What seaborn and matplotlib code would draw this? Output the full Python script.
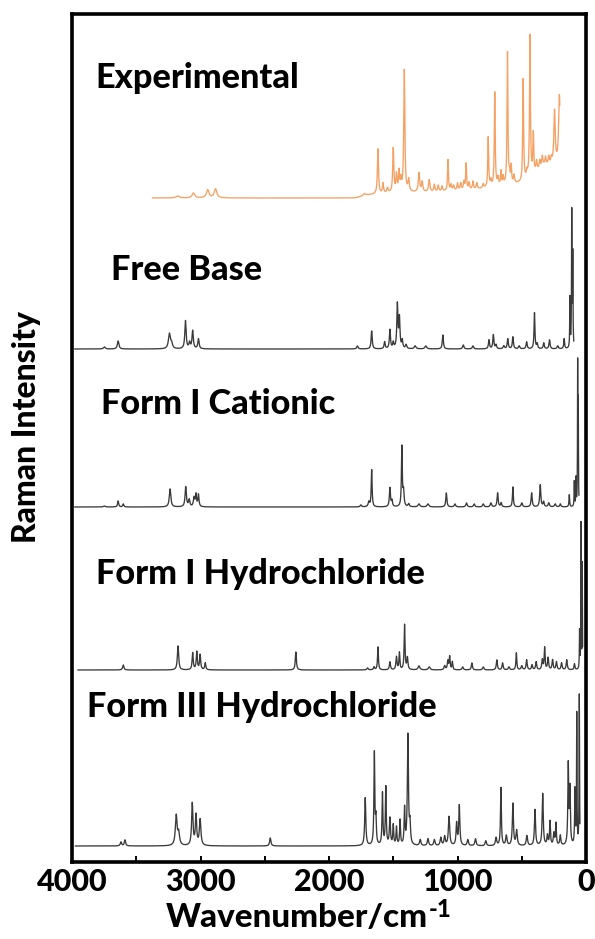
import numpy as np
import pandas as pd
import matplotlib
matplotlib.use("Agg")
import matplotlib.pyplot as plt
from matplotlib.ticker import MultipleLocator
import seaborn as sns

# ------------------------------------------------------------------ data
series_names = ["Experimental", "Free Base", "Form I Cationic",
                "Form I Hydrochloride", "Form III Hydrochloride"]
# stacking offsets of each trace (intensity units)
offsets = [664, 513, 355, 192, 16]
# wavenumber span drawn for each trace (start, end) in cm-1
spans = [(3375, 204), (3980, 95), (3980, 55), (3955, 26), (3975, 47)]

# Experimental: baseline anchors + peaks (centre, height, half width)
exp_base_wn = [3375, 1800, 1700, 1500, 1200, 900, 700, 500, 420, 330, 250, 204]
exp_base_lvl = [0, 0, 3, 5, 6, 8, 11, 15, 22, 32, 33, 34]
exp_c = [3177, 3055, 2944, 2883, 1725, 1619, 1580, 1545, 1500, 1475, 1455, 1440,
         1414, 1380, 1300, 1275, 1220, 1180, 1150, 1120, 1074, 1050, 1030, 1000,
         975, 950, 933, 910, 880, 850, 800, 761, 740, 710, 685, 662, 645, 611,
         595, 582, 560, 489, 460, 436, 410, 385, 360, 340, 315, 290, 270, 245, 207]
exp_h = [2, 5, 8, 9, 2, 45, 10, 5, 44, 17, 20, 11,
         122, 12, 19, 10, 12, 7, 6, 5, 31, 6, 5, 7,
         7, 8, 26, 7, 8, 6, 4, 50, 6, 94, 8, 14, 8, 132,
         8, 17, 8, 102, 6, 141, 40, 10, 8, 10, 8, 8, 6, 53, 68]
exp_w = [15, 12, 12, 12, 10, 5, 5, 6, 5, 5, 5, 5,
         5, 6, 6, 6, 6, 5, 5, 5, 4, 5, 5, 5,
         5, 5, 4, 5, 5, 5, 5, 4, 5, 4, 5, 4, 4, 4,
         5, 4, 5, 4, 5, 4, 4, 5, 5, 5, 5, 5, 5, 6, 7]

fb_c = [3748, 3641, 3242, 3225, 3117, 3085, 3061, 3016, 1779, 1668, 1567, 1526,
        1500, 1468, 1452, 1430, 1400, 1330, 1247, 1114, 955, 880, 755, 721, 700,
        640, 609, 569, 520, 462, 401, 380, 329, 284, 220, 170, 125, 111, 103]
fb_h = [2, 8, 15, 5, 28, 6, 18, 10, 3, 18, 7, 19,
        6, 44, 30, 8, 4, 3, 3, 14, 4, 3, 9, 14, 4,
        3, 10, 12, 3, 7, 36, 5, 6, 9, 3, 10, 50, 135, 92]
fb_w = [8, 7, 9, 8, 6, 6, 6, 6, 6, 5, 5, 5,
        5, 5, 5, 5, 6, 8, 8, 5, 6, 6, 5, 5, 5,
        6, 5, 5, 6, 5, 4, 5, 5, 5, 6, 4, 2, 2, 2]

cat_c = [3748, 3641, 3601, 3237, 3115, 3088, 3050, 3035, 3016, 1752, 1690, 1668,
         1526, 1510, 1433, 1420, 1380, 1300, 1230, 1087, 1020, 930, 870, 800, 740,
         688, 660, 569, 500, 423, 356, 330, 290, 240, 200, 130, 91, 78, 65, 60]
cat_h = [1, 6, 3, 18, 20, 7, 9, 12, 12, 2, 5, 37,
         19, 6, 60, 15, 3, 3, 3, 14, 3, 4, 3, 3, 4,
         14, 4, 20, 4, 14, 22, 5, 4, 3, 3, 12, 25, 28, 140, 100]
cat_w = [8, 5, 5, 7, 6, 6, 6, 5, 5, 6, 6, 4,
         5, 5, 4, 5, 6, 8, 8, 5, 6, 6, 6, 6, 6,
         5, 5, 4, 6, 5, 5, 5, 6, 6, 5, 3, 2, 2, 1.5, 1.5]

f1_c = [3601, 3175, 3061, 3029, 3003, 2963, 2258, 1700, 1650, 1619, 1526, 1475,
        1452, 1412, 1390, 1300, 1220, 1100, 1075, 1061, 1040, 960, 888, 800, 694,
        649, 600, 542, 500, 462, 420, 388, 340, 322, 295, 260, 230, 190, 150, 90,
        50, 39, 29]
f1_h = [5, 24, 17, 18, 15, 7, 18, 2, 3, 23, 8, 13,
        17, 45, 12, 4, 3, 4, 9, 13, 8, 3, 7, 3, 10,
        7, 3, 17, 4, 10, 5, 8, 10, 22, 12, 10, 8, 7, 10, 6,
        38, 145, 105]
f1_w = [6, 6, 5, 5, 5, 5, 5, 6, 5, 4, 5, 5,
        4, 4, 5, 8, 8, 6, 5, 4, 4, 6, 5, 6, 5,
        5, 6, 4, 6, 5, 5, 5, 5, 4, 5, 5, 5, 5, 5, 4,
        2, 1.5, 1.5]

f3_c = [3619, 3588, 3189, 3170, 3064, 3035, 3003, 2457, 1718, 1647, 1635, 1584,
        1558, 1526, 1500, 1475, 1447, 1412, 1386, 1370, 1290, 1230, 1180, 1130,
        1100, 1066, 1007, 986, 920, 860, 780, 700, 662, 620, 569, 540, 460, 397,
        337, 300, 280, 250, 234, 200, 138, 125, 86, 72, 52]
f3_h = [4, 6, 30, 12, 42, 30, 26, 8, 48, 92, 25, 52,
        58, 27, 20, 18, 25, 36, 110, 20, 6, 7, 6, 8,
        9, 29, 22, 40, 6, 7, 5, 8, 58, 10, 42, 15, 10, 36,
        52, 10, 24, 12, 22, 10, 80, 55, 55, 130, 150]
f3_w = [6, 6, 8, 8, 6, 6, 7, 6, 5, 4, 4, 4,
        4, 5, 4, 4, 4, 4, 5, 5, 6, 6, 6, 6,
        6, 6, 5, 5, 6, 6, 6, 6, 4, 6, 5, 6, 6, 5,
        5, 5, 4, 5, 4, 5, 4, 4, 3, 2, 2]

peak_sets = [(exp_c, exp_h, exp_w), (fb_c, fb_h, fb_w), (cat_c, cat_h, cat_w),
             (f1_c, f1_h, f1_w), (f3_c, f3_h, f3_w)]

x_ticks = [4000, 3000, 2000, 1000, 0]
x_tick_labels = ["4000", "3000", "2000", "1000", "0"]
x_label_main = "Wavenumber/cm"
x_label_sup = "-1"
y_label = "Raman Intensity"

# ------------------------------------------------------------------ build traces
def lorentz_sum(wn, c, h, w):
    c = np.asarray(c, float)[:, None]
    h = np.asarray(h, float)[:, None]
    w = np.asarray(w, float)[:, None]
    return (h / (1.0 + ((wn[None, :] - c) / w) ** 2)).sum(axis=0)

frames = []
for i, name in enumerate(series_names):
    a, b = spans[i]
    wn = np.arange(a, b - 0.5, -0.5)
    y = lorentz_sum(wn, *peak_sets[i])
    if i == 0:
        y = y + np.interp(wn[::-1], exp_base_wn[::-1], exp_base_lvl[::-1])[::-1]
    frames.append(pd.DataFrame({"wn": wn, "I": y + offsets[i], "series": name}))
df = pd.concat(frames, ignore_index=True)

# ------------------------------------------------------------------ style
sns.set_theme(style="white")
plt.rcParams["font.family"] = ["Lato", "DejaVu Sans"]

W, H = 595, 939
fig = plt.figure(figsize=(W / 100, H / 100), dpi=100)
L, R, T, B = 72, 586, 14, 862
ax = fig.add_axes([L / W, 1 - B / H, (R - L) / W, (B - T) / H])

palette = {series_names[0]: "#F6A062"}
for n in series_names[1:]:
    palette[n] = "#3a3a3a"
sns.lineplot(data=df, x="wn", y="I", hue="series", palette=palette,
             estimator=None, sort=False, legend=False, linewidth=0.95, ax=ax)

ax.set_xlim(4000, 0)
ax.set_ylim(0, B - T)
ax.set_yticks([])
ax.set_xticks(x_ticks)
ax.set_xticklabels(x_tick_labels)
ax.xaxis.set_minor_locator(MultipleLocator(500))
ax.set_xlabel("")
ax.set_ylabel("")
for s in ax.spines.values():
    s.set_visible(True)
    s.set_linewidth(2.6)
    s.set_color("black")
ax.tick_params(axis="x", which="both", direction="in", length=4.5, width=1.4,
               color="black", bottom=True)
ax.tick_params(axis="x", which="major", pad=4, labelsize=22)
for t in ax.get_xticklabels():
    t.set_fontweight("black")
    t.set_color("black")

# series labels (left x, baseline y in pixels)
lab_pos = [(95, 88), (111, 280), (101, 414), (96, 584), (87, 717)]
lab_target_w = [208, 147, 233, 332, 351]
texts = []
for name, (px, py) in zip(series_names, lab_pos):
    texts.append(fig.text(px / W, 1 - py / H, name, fontsize=20, fontweight="black",
                          color="black", ha="left", va="baseline"))
fig.canvas.draw()
rend = fig.canvas.get_renderer()
ratios = [tw / t.get_window_extent(rend).width for t, tw in zip(texts, lab_target_w)]
scale = float(np.mean(ratios))
for t in texts:
    t.set_fontsize(20 * scale)

# x label: main part + raised superscript
fs_x = 20 * scale * 0.97
xm = fig.text(166 / W, 1 - 927 / H, x_label_main, fontsize=fs_x,
              fontweight="black", ha="left", va="baseline", color="black")
fig.canvas.draw()
ext = xm.get_window_extent(rend)
fig.text((ext.x1 + 1) / W, 1 - 917 / H, x_label_sup, fontsize=fs_x * 0.72,
         fontweight="black", ha="left", va="baseline", color="black")

fig.text(27 / W, 1 - 427 / H, y_label, fontsize=20 * scale * 0.93,
         fontweight="black", rotation=90, ha="center", va="center", color="black")

fig.savefig("out.png", dpi=100, facecolor="white")
